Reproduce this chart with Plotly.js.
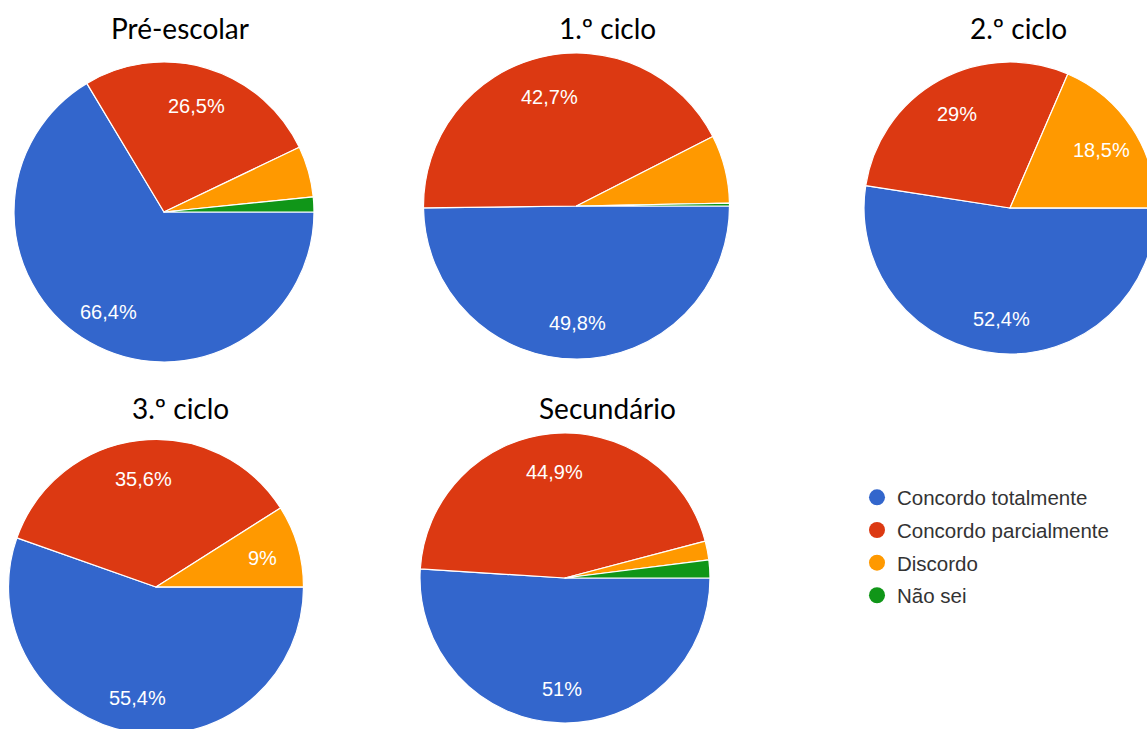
<!DOCTYPE html>
<html>
<head>
<meta charset="utf-8">
<script src="https://cdn.plot.ly/plotly-3.0.1.min.js"></script>
<style>
html, body { margin: 0; padding: 0; overflow: hidden; background: #ffffff; }
#chart { width: 1160px; height: 740px; }
</style>
</head>
<body>
<div id="chart"></div>
<script>
// ---- data ----
const categories = ["Concordo totalmente", "Concordo parcialmente", "Discordo", "Não sei"];
const groupTitles = ["Pré-escolar", "1.º ciclo", "2.º ciclo", "3.º ciclo", "Secundário"];
const preEscolar = [66.4, 26.5, 5.5, 1.6];
const ciclo1 = [49.8, 42.7, 7.2, 0.3];
const ciclo2 = [52.4, 29, 18.5, 0];
const ciclo3 = [55.4, 35.6, 9, 0];
const secundario = [51, 44.9, 2.1, 2.0];
const seriesValues = [preEscolar, ciclo1, ciclo2, ciclo3, secundario];

// ---- style ----
const colors = ["#3366cc", "#dc3912", "#ff9900", "#109618"];
const W = 1160, H = 740;
// pixel geometry of each pie: [centerX, centerY, radius]
const geom = [[164, 212, 150], [576.5, 206, 153], [1010, 208, 146], [156, 587, 147.5], [565, 578, 145]];
const titlePos = [[180, 28], [607, 28], [1018, 28], [180, 408], [607, 408]];
const labelRadius = 0.75;
const labelFont = { family: 'Liberation Sans, Arial, sans-serif', size: 20, color: '#ffffff' };

function dom(g) {
  const [cx, cy, r] = g;
  return { x: [(cx - r) / W, (cx + r) / W], y: [1 - (cy + r) / H, 1 - (cy - r) / H] };
}
function label(v) {
  return String(v).replace('.', ',') + '%';
}

const traces = seriesValues.map((vals, i) => ({
  type: 'pie',
  values: vals,
  labels: categories,
  textinfo: 'none',
  sort: false,
  direction: 'clockwise',
  rotation: 90,
  marker: { colors: colors, line: { color: '#ffffff', width: 1.2 } },
  domain: dom(geom[i]),
  showlegend: false,
  hoverinfo: 'label+percent'
}));

categories.forEach((c, k) => {
  traces.push({
    type: 'scatter', mode: 'markers', x: [null], y: [null],
    name: c, legendgroup: 'g' + k,
    marker: { color: colors[k], size: 18, symbol: 'circle' },
    showlegend: true, hoverinfo: 'skip'
  });
});

const annotations = groupTitles.map((t, i) => ({
  text: t, xref: 'paper', yref: 'paper',
  x: titlePos[i][0] / W, y: 1 - titlePos[i][1] / H,
  xanchor: 'center', yanchor: 'middle', showarrow: false,
  font: { family: 'Lato, Carlito, sans-serif', size: 28, color: '#000000' }
}));

// slice labels: placed along each slice's mid-angle (clockwise from 3 o'clock)
seriesValues.forEach((vals, i) => {
  const [cx, cy, r] = geom[i];
  const total = vals.reduce((a, b) => a + b, 0);
  let cum = 0;
  vals.forEach(v => {
    const mid = (cum + v / 2) / total * 2 * Math.PI;
    cum += v;
    if (v / total < 0.085) return;
    const px = cx + labelRadius * r * Math.cos(mid);
    const py = cy + labelRadius * r * Math.sin(mid) + 2;
    annotations.push({
      text: label(v), xref: 'paper', yref: 'paper',
      x: px / W, y: 1 - py / H, xanchor: 'center', yanchor: 'middle',
      showarrow: false, font: labelFont
    });
  });
});

const layout = {
  width: W, height: H,
  margin: { l: 0, r: 0, t: 0, b: 0 },
  paper_bgcolor: '#ffffff', plot_bgcolor: '#ffffff',
  xaxis: { visible: false, domain: [0.75, 0.76], range: [0, 1] },
  yaxis: { visible: false, domain: [0.1, 0.11], range: [0, 1] },
  annotations: annotations,
  showlegend: true,
  legend: {
    x: 857 / W, y: 1 - 546.5 / H, xanchor: 'left', yanchor: 'middle',
    font: { family: 'Liberation Sans, Arial, sans-serif', size: 20.5, color: '#333333' },
    bgcolor: 'rgba(0,0,0,0)', tracegroupgap: 3, traceorder: 'grouped'
  }
};

Plotly.newPlot('chart', traces, layout, { displayModeBar: false, staticPlot: true });
</script>
</body>
</html>
